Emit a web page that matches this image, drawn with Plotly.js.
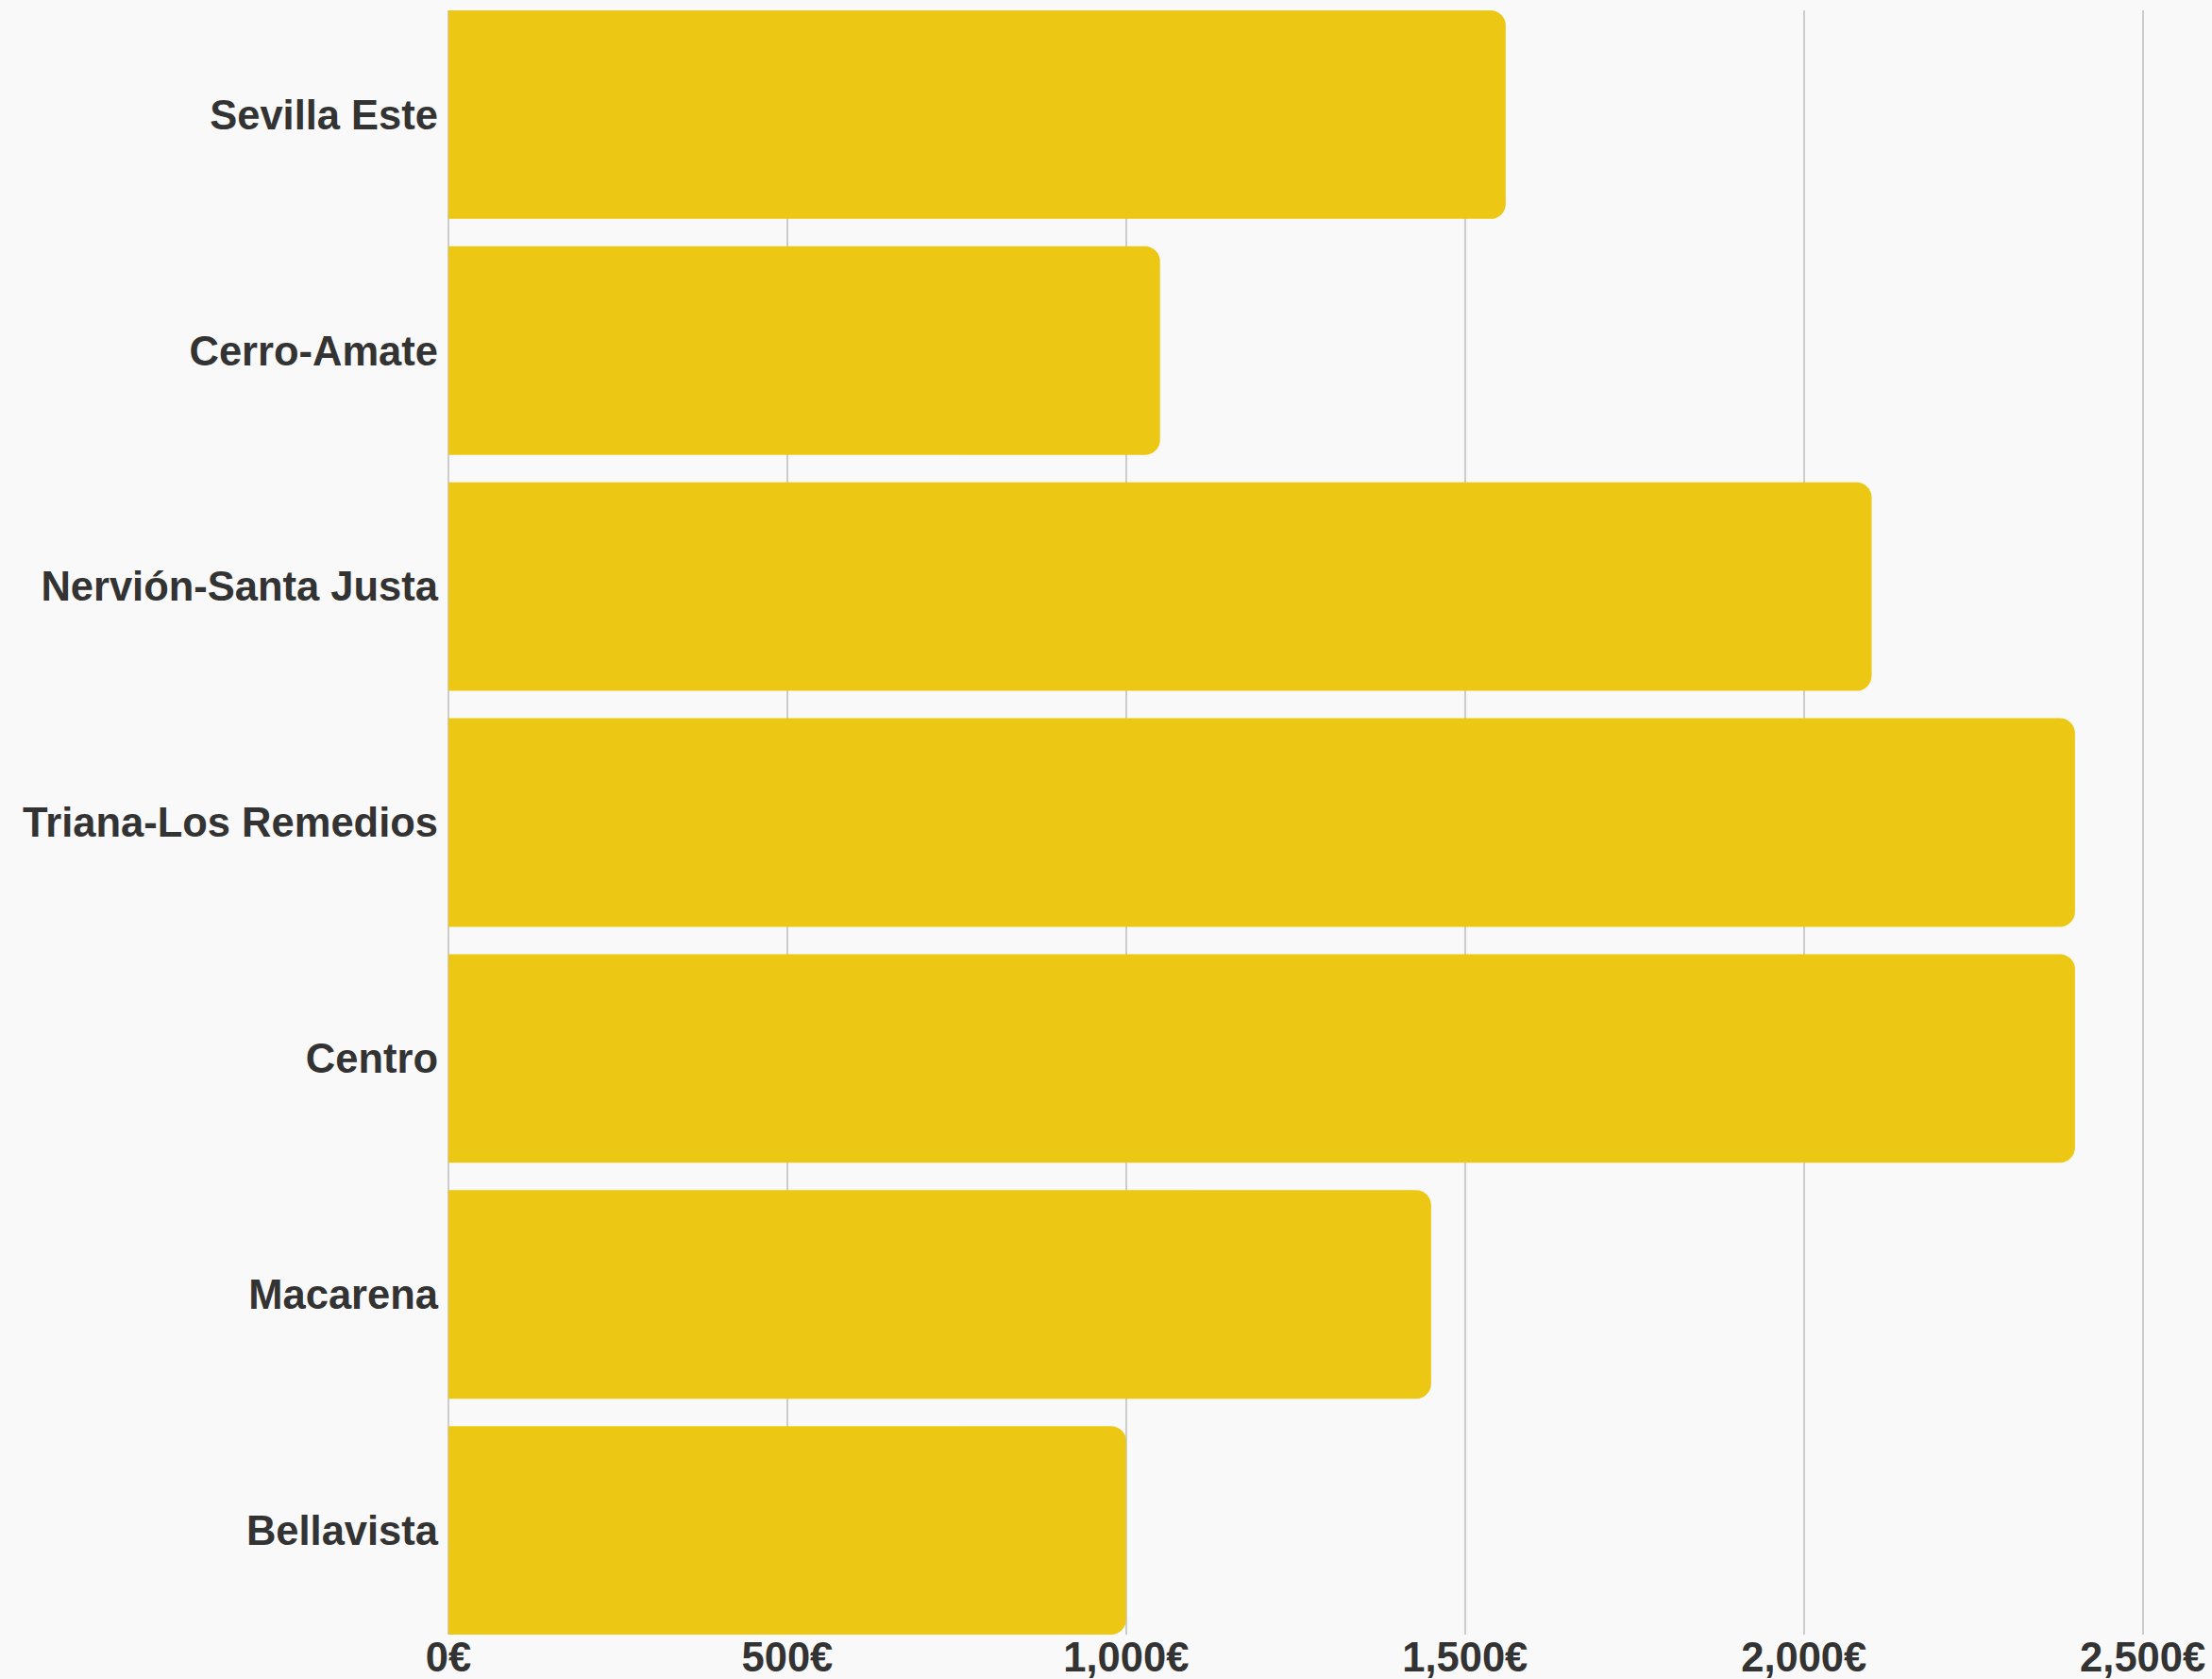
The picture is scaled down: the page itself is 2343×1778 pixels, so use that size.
<!DOCTYPE html>
<html>
<head>
<meta charset="utf-8">
<script src="https://cdn.plot.ly/plotly-3.0.1.min.js"></script>
<style>
  html, body { margin: 0; padding: 0; background: #f9f9f9; }
  #chart { width: 2343px; height: 1778px; }
</style>
</head>
<body>
<div id="chart"></div>
<script>
// Data (top-to-bottom order as shown)
const districts = ["Sevilla Este", "Cerro-Amate", "Nervión-Santa Justa", "Triana-Los Remedios", "Centro", "Macarena", "Bellavista"];
const values = [1560, 1050, 2100, 2400, 2400, 1450, 1000];
const tickStep = 500;
const tickSuffix = "\u20AC";

const barGap = 0.116;
const n = districts.length;

const trace = {
  type: "bar",
  orientation: "h",
  x: values,
  y: districts,
  marker: { color: "#ecc815", cornerradius: 16, line: { width: 0 } },
  hoverinfo: "x+y"
};

const tickFont = { size: 43.5, weight: "bold", color: "#333333", family: "Liberation Sans, Arial, sans-serif" };

const layout = {
  width: 2343,
  height: 1778,
  paper_bgcolor: "#f9f9f9",
  plot_bgcolor: "#f9f9f9",
  margin: { l: 475, r: 3, t: 11, b: 47, pad: 0 },
  bargap: barGap,
  showlegend: false,
  font: { family: "Liberation Sans, Arial, sans-serif", color: "#333333" },
  xaxis: {
    range: [0, 2598],
    tickmode: "linear",
    tick0: 0,
    dtick: tickStep,
    tickformat: ",d",
    ticksuffix: tickSuffix,
    showgrid: true,
    gridcolor: "#cccccc",
    gridwidth: 2,
    zeroline: true,
    zerolinecolor: "#cccccc",
    zerolinewidth: 2,
    showline: false,
    ticks: "",
    ticklabelstandoff: -6,
    tickfont: tickFont,
    fixedrange: true
  },
  yaxis: {
    type: "category",
    categoryorder: "array",
    categoryarray: districts,
    range: [n - 0.5 - barGap / 2, -0.5 + barGap / 2],
    showgrid: false,
    zeroline: false,
    showline: false,
    ticks: "",
    ticklabelstandoff: 10,
    tickfont: tickFont,
    fixedrange: true
  }
};

Plotly.newPlot("chart", [trace], layout, { displayModeBar: false, staticPlot: true });
</script>
</body>
</html>
